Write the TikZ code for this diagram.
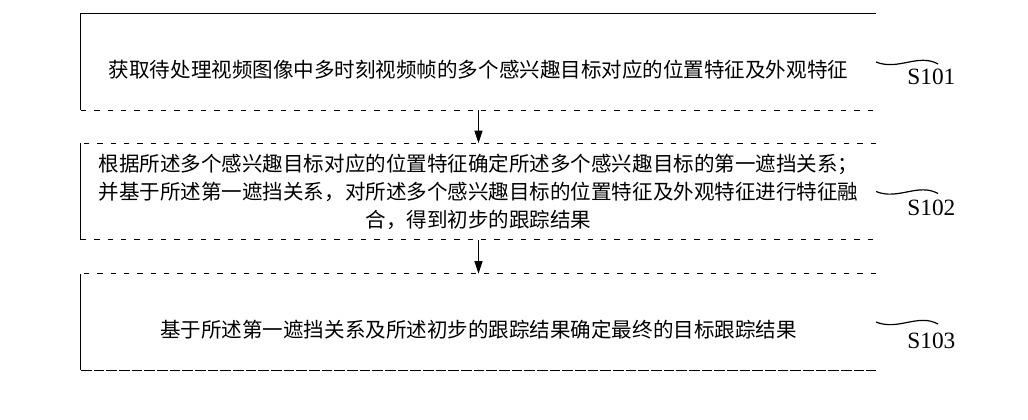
\documentclass[tikz,border=0pt]{standalone}
\usepackage{fontspec}
\setmainfont{Liberation Serif}
\newfontfamily\cjk{Noto Sans CJK SC}
\usetikzlibrary{arrows.meta,positioning}

\begin{document}
\begin{tikzpicture}[x=0.75pt,y=-0.75pt,>={Triangle[length=9.5pt,width=6pt]},
 stage/.style={minimum width=596pt,minimum height=72pt,inner sep=0pt},
 stagetext/.style={font=\cjk\fontsize{15.4}{21}\selectfont,align=center,inner sep=0pt},
 solidedge/.style={line width=0.8pt},
 gapedge/.style={line width=0.8pt,dash pattern=on 4pt off 6pt},
 longedge/.style={line width=0.8pt,dash pattern=on 8pt off 1.5pt},
 flow/.style={->,line width=0.8pt},
 wave/.style={line width=0.9pt},
 steplabel/.style={font=\fontsize{17.5}{19}\selectfont,inner sep=0pt,anchor=base west}]
\useasboundingbox (0,0) rectangle (1028,420);

% the three steps
\node[stage] (acq) at (478.5,62) {};
\node[stage,below=24.75pt of acq] (fuse) {};
\node[stage,below=25.5pt of fuse] (final) {};

\node[stagetext] (acqtext) at ([yshift=-6pt]acq.center)
 {获取待处理视频图像中多时刻视频帧的多个感兴趣目标对应的位置特征及外观特征};
\node[stagetext] (fusetext) at (fuse.center)
 {根据所述多个感兴趣目标对应的位置特征确定所述多个感兴趣目标的第一遮挡关系；\\
  并基于所述第一遮挡关系，对所述多个感兴趣目标的位置特征及外观特征进行特征融\\
  合，得到初步的跟踪结果};
\node[stagetext] (finaltext) at ([yshift=-6pt]final.center)
 {基于所述第一遮挡关系及所述初步的跟踪结果确定最终的目标跟踪结果};

% frames, open on the right
\draw[solidedge] (acq.north east) -- (acq.north west) -- (acq.south west);
\draw[gapedge] (acq.south west) -- (acq.south east);
\draw[gapedge] (fuse.north east) -- (fuse.north west);
\draw[solidedge] (fuse.north west) -- (fuse.south west);
\draw[gapedge] (fuse.south west) -- (fuse.south east);
\draw[gapedge] (final.north east) -- (final.north west);
\draw[solidedge] (final.north west) -- (final.south west);
\draw[longedge] (final.south west) -- (final.south east);

\draw[flow] (acq.south) -- (fuse.north);
\draw[flow] (fuse.south) -- (final.north);

% step labels
\node[steplabel] (lab1) at ([shift={(31,23)}]acq.east) {S101};
\node[steplabel] (lab2) at ([shift={(31,24)}]fuse.east) {S102};
\node[steplabel] (lab3) at ([shift={(31,26)}]final.east) {S103};
\draw[wave] (acq.east) .. controls +(22,9) and +(-20,-11) .. ([shift={(62,2)}]acq.east);
\draw[wave] (fuse.east) .. controls +(22,9) and +(-20,-11) .. ([shift={(62,2)}]fuse.east);
\draw[wave] (final.east) .. controls +(22,9) and +(-20,-11) .. ([shift={(62,2)}]final.east);
\end{tikzpicture}
\end{document}
